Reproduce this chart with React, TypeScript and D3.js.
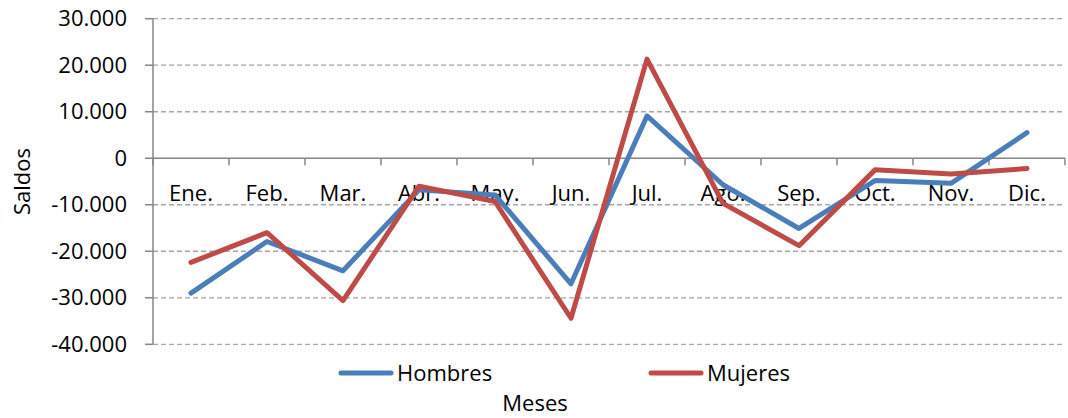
import React from "react";
import * as d3 from "d3";

const months = ["Ene.", "Feb.", "Mar.", "Abr.", "May.", "Jun.", "Jul.", "Ago.", "Sep.", "Oct.", "Nov.", "Dic."];
const hombres = [-29000, -17900, -24200, -6800, -7900, -27000, 9100, -5700, -15100, -4800, -5400, 5500];
const mujeres = [-22400, -16000, -30600, -6000, -9300, -34400, 21300, -9700, -18800, -2500, -3400, -2200];
const yTicks = [30000, 20000, 10000, 0, -10000, -20000, -30000, -40000];
const seriesNames = ["Hombres", "Mujeres"];
const colors = ["#4a7ebb", "#be4b48"];

const W = 1068;
const H = 418;
const left = 153;
const right = 1065;
const top = 18.7;
const bottom = 344.3;
const font = "'Open Sans', sans-serif";

const fmt = (v: number) => {
  const s = d3.format(",")(v).replace(/,/g, ".");
  return s.replace("−", "-");
};

export default function App() {
  const x = d3.scaleBand<string>().domain(months).range([left, right]);
  const y = d3.scaleLinear().domain([-40000, 30000]).range([bottom, top]);
  const line = d3
    .line<number>()
    .x((_, i) => (x(months[i]) as number) + x.bandwidth() / 2)
    .y((d) => y(d));
  const y0 = y(0);
  const boundaries = d3.range(months.length + 1).map((i) => left + i * x.step());

  return (
    <svg width={W} height={H} style={{ position: "absolute", left: 0, top: 0, background: "#fff" }}>
      {yTicks.map((t) => (
        <g key={t}>
          {t !== 0 && (
            <line x1={left} x2={right} y1={y(t)} y2={y(t)} stroke="#a6a6a6" strokeWidth={1.3} strokeDasharray="5,3" />
          )}
          <line x1={145} x2={left} y1={y(t)} y2={y(t)} stroke="#868686" strokeWidth={1.5} />
          <text x={127} y={y(t)} dy="0.35em" textAnchor="end" fontFamily={font} fontSize={22} fill="#000">
            {fmt(t)}
          </text>
        </g>
      ))}
      <line x1={left} x2={left} y1={top} y2={bottom} stroke="#868686" strokeWidth={1.5} />
      <line x1={left} x2={right} y1={y0} y2={y0} stroke="#868686" strokeWidth={1.5} />
      {boundaries.map((b, i) => (
        <line key={i} x1={b} x2={b} y1={y0} y2={y0 + 7} stroke="#868686" strokeWidth={1.5} />
      ))}
      {months.map((m) => (
        <text
          key={m}
          x={(x(m) as number) + x.bandwidth() / 2}
          y={y0 + 35}
          dy="0.35em"
          textAnchor="middle"
          fontFamily={font}
          fontSize={22}
          fill="#000"
        >
          {m}
        </text>
      ))}
      {[hombres, mujeres].map((s, i) => (
        <path key={i} d={line(s) || ""} fill="none" stroke={colors[i]} strokeWidth={5} strokeLinejoin="round" strokeLinecap="round" />
      ))}
      {seriesNames.map((n, i) => {
        const lx = i === 0 ? 341 : 651;
        return (
          <g key={n}>
            <line x1={lx} x2={lx + 50} y1={373} y2={373} stroke={colors[i]} strokeWidth={5} strokeLinecap="round" />
            <text x={lx + 56} y={373} dy="0.35em" fontFamily={font} fontSize={22} fill="#000">
              {n}
            </text>
          </g>
        );
      })}
      <text x={535} y={403} dy="0.35em" textAnchor="middle" fontFamily={font} fontSize={22} fill="#000">
        Meses
      </text>
      <text
        transform={`translate(22,${(top + bottom) / 2}) rotate(-90)`}
        dy="0.35em"
        textAnchor="middle"
        fontFamily={font}
        fontSize={22}
        fill="#000"
      >
        Saldos
      </text>
    </svg>
  );
}
